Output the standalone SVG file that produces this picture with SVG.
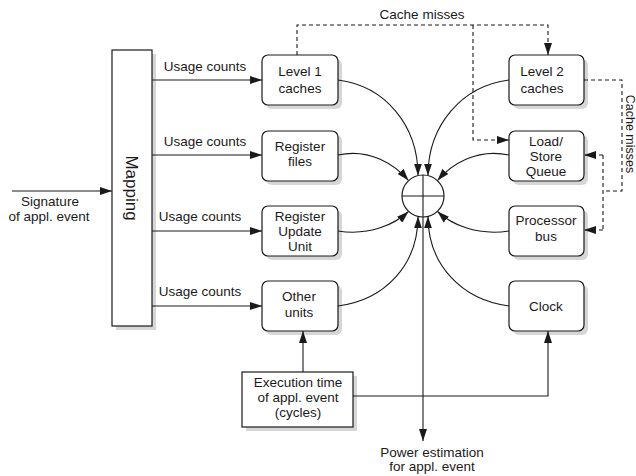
<svg xmlns="http://www.w3.org/2000/svg" width="636" height="476" viewBox="0 0 636 476">
<style>
text{font-family:"Liberation Sans",Arial,sans-serif;font-size:13.5px;fill:#1a1a1a}
.c{text-anchor:middle}
.box{fill:#fff;stroke:#1a1a1a;stroke-width:1.2}
.sh{fill:#d6d6d6}
.ln{fill:none;stroke:#1a1a1a;stroke-width:1.1}
.ds{fill:none;stroke:#1a1a1a;stroke-width:1.1;stroke-dasharray:4,3}
</style>
<defs>
<marker id="ah" viewBox="0 0 12 8" refX="12" refY="4" markerWidth="12" markerHeight="8" orient="auto" markerUnits="userSpaceOnUse">
<path d="M0,0 L12,4 L0,8 z" fill="#1a1a1a"/>
</marker>
</defs>
<rect width="636" height="476" fill="#fff"/>

<g id="mapping">
<rect class="sh" x="116" y="54" width="40" height="276"/>
<rect class="box" x="112" y="50" width="40" height="276"/>
<text class="c" transform="translate(126,188) rotate(90)" style="font-size:17px">Mapping</text>
</g>

<g id="level1">
<rect class="sh" x="266" y="59" width="76" height="50" rx="6"/>
<rect class="box" x="262" y="55" width="76" height="50" rx="6"/>
<text class="c" x="300" y="76">Level 1</text>
<text class="c" x="300" y="93">caches</text>
</g>
<g id="regfiles">
<rect class="sh" x="266" y="135" width="76" height="50" rx="6"/>
<rect class="box" x="262" y="131" width="76" height="50" rx="6"/>
<text class="c" x="300" y="151">Register</text>
<text class="c" x="300" y="166">files</text>
</g>
<g id="ruu">
<rect class="sh" x="266" y="210" width="76" height="50" rx="6"/>
<rect class="box" x="262" y="206" width="76" height="50" rx="6"/>
<text class="c" x="300" y="221">Register</text>
<text class="c" x="300" y="236">Update</text>
<text class="c" x="300" y="251">Unit</text>
</g>
<g id="other">
<rect class="sh" x="266" y="285" width="76" height="50" rx="6"/>
<rect class="box" x="262" y="281" width="76" height="50" rx="6"/>
<text class="c" x="299" y="301">Other</text>
<text class="c" x="299" y="317">units</text>
</g>

<g id="level2">
<rect class="sh" x="513" y="59" width="75" height="50" rx="6"/>
<rect class="box" x="509" y="55" width="75" height="50" rx="6"/>
<text class="c" x="542" y="76">Level 2</text>
<text class="c" x="542" y="93">caches</text>
</g>
<g id="lsq">
<rect class="sh" x="513" y="135" width="75" height="50" rx="6"/>
<rect class="box" x="509" y="131" width="75" height="50" rx="6"/>
<text class="c" x="546" y="146">Load/</text>
<text class="c" x="546" y="161">Store</text>
<text class="c" x="546" y="176">Queue</text>
</g>
<g id="pbus">
<rect class="sh" x="513" y="210" width="75" height="50" rx="6"/>
<rect class="box" x="509" y="206" width="75" height="50" rx="6"/>
<text class="c" x="546" y="225">Processor</text>
<text class="c" x="546" y="241">bus</text>
</g>
<g id="clock">
<rect class="sh" x="513" y="285" width="75" height="50" rx="6"/>
<rect class="box" x="509" y="281" width="75" height="50" rx="6"/>
<text class="c" x="546" y="311">Clock</text>
</g>

<g id="exectime">
<rect class="sh" x="246" y="376" width="111" height="55"/>
<rect class="box" x="242" y="372" width="111" height="55"/>
<text class="c" x="298" y="387">Execution time</text>
<text class="c" x="298" y="402">of appl. event</text>
<text class="c" x="298" y="417">(cycles)</text>
</g>

<g id="adder">
<circle cx="423" cy="196" r="21" fill="#fff" stroke="#1a1a1a" stroke-width="1.2"/>
<line x1="402" y1="196" x2="444" y2="196" stroke="#1a1a1a" stroke-width="1.1"/>
</g>

<g id="connectors">
<path class="ln" d="M12,191 H112" marker-end="url(#ah)"/>
<path class="ln" d="M152,80 H262" marker-end="url(#ah)"/>
<path class="ln" d="M152,155 H262" marker-end="url(#ah)"/>
<path class="ln" d="M152,231 H262" marker-end="url(#ah)"/>
<path class="ln" d="M152,306 H262" marker-end="url(#ah)"/>

<path class="ln" d="M338,80 C385,86 418,125 418,175.6" marker-end="url(#ah)"/>
<path class="ln" d="M509,80 C462,86 428,125 428,175.6" marker-end="url(#ah)"/>
<path class="ln" d="M338,155 C370,148 395,165 408.5,180.5" marker-end="url(#ah)"/>
<path class="ln" d="M509,155 C476,148 451,165 437.5,180.5" marker-end="url(#ah)"/>
<path class="ln" d="M338,231 C370,236 395,224 408.5,211.5" marker-end="url(#ah)"/>
<path class="ln" d="M509,231 C476,236 451,224 437.5,211.5" marker-end="url(#ah)"/>
<path class="ln" d="M338,306 C385,300 418,265 418,216.4" marker-end="url(#ah)"/>
<path class="ln" d="M509,306 C462,300 428,265 428,216.4" marker-end="url(#ah)"/>

<path class="ln" d="M423,175 V441" marker-end="url(#ah)"/>

<path class="ln" d="M303,372 V331" marker-end="url(#ah)"/>
<path class="ln" d="M353,396 H548 V331" marker-end="url(#ah)"/>

<path class="ds" d="M297,55 V25 H548 V55" marker-end="url(#ah)"/>
<path class="ds" d="M473,25 V140 H509" marker-end="url(#ah)"/>
<path class="ds" d="M584,80 H622 V191 H603"/>
<path class="ds" d="M603,155 V230"/>
<path class="ds" d="M603,155 H584" marker-end="url(#ah)"/>
<path class="ds" d="M603,230 H584" marker-end="url(#ah)"/>
</g>

<g id="labels">
<text class="c" x="205" y="71">Usage counts</text>
<text class="c" x="205" y="146">Usage counts</text>
<text class="c" x="200" y="221">Usage counts</text>
<text class="c" x="200" y="296">Usage counts</text>
<text class="c" x="422" y="19">Cache misses</text>
<text class="c" transform="translate(625.5,134) rotate(90)" style="font-size:12.5px">Cache misses</text>
<text class="c" x="50" y="206">Signature</text>
<text class="c" x="49" y="221">of appl. event</text>
<text class="c" x="432" y="457">Power estimation</text>
<text class="c" x="432" y="471">for appl. event</text>
</g>
</svg>
